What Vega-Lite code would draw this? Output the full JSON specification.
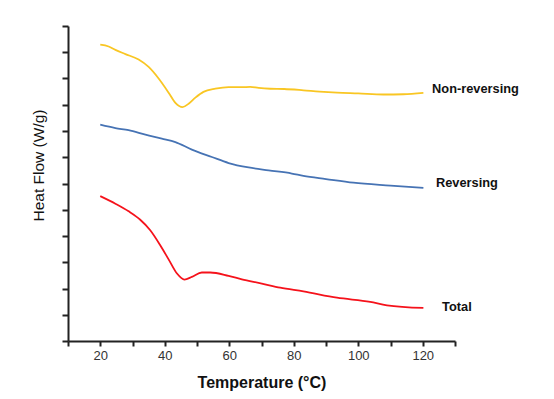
{
  "$schema": "https://vega.github.io/schema/vega-lite/v6.json",
  "autosize": {"type": "none"},
  "padding": {"left": 68, "top": 26, "right": 99, "bottom": 58},
  "width": 387,
  "height": 315,
  "background": "white",
  "config": {
    "view": {"stroke": null},
    "font": "Liberation Sans",
    "axis": {"grid": false, "domainColor": "#222", "domainWidth": 2, "tickColor": "#222", "tickWidth": 2, "labelFont": "Liberation Sans", "titleFont": "Liberation Sans", "labelColor": "#333", "titleColor": "#111"}
  },
  "data": {"values": [
      {"kind": "curve", "series": "Non-reversing", "T": 20, "v": 11.29},
      {"kind": "curve", "series": "Non-reversing", "T": 22.6, "v": 11.22},
      {"kind": "curve", "series": "Non-reversing", "T": 24.7, "v": 11.09},
      {"kind": "curve", "series": "Non-reversing", "T": 27.8, "v": 10.93},
      {"kind": "curve", "series": "Non-reversing", "T": 31.9, "v": 10.72},
      {"kind": "curve", "series": "Non-reversing", "T": 35, "v": 10.44},
      {"kind": "curve", "series": "Non-reversing", "T": 38.1, "v": 10.0},
      {"kind": "curve", "series": "Non-reversing", "T": 41.2, "v": 9.46},
      {"kind": "curve", "series": "Non-reversing", "T": 43.3, "v": 9.07},
      {"kind": "curve", "series": "Non-reversing", "T": 45.5, "v": 8.91},
      {"kind": "curve", "series": "Non-reversing", "T": 47.4, "v": 9.04},
      {"kind": "curve", "series": "Non-reversing", "T": 49.5, "v": 9.27},
      {"kind": "curve", "series": "Non-reversing", "T": 52, "v": 9.49},
      {"kind": "curve", "series": "Non-reversing", "T": 55.7, "v": 9.61},
      {"kind": "curve", "series": "Non-reversing", "T": 59.8, "v": 9.67},
      {"kind": "curve", "series": "Non-reversing", "T": 63.9, "v": 9.67},
      {"kind": "curve", "series": "Non-reversing", "T": 66.5, "v": 9.68},
      {"kind": "curve", "series": "Non-reversing", "T": 69.1, "v": 9.64},
      {"kind": "curve", "series": "Non-reversing", "T": 72.7, "v": 9.61},
      {"kind": "curve", "series": "Non-reversing", "T": 77, "v": 9.6},
      {"kind": "curve", "series": "Non-reversing", "T": 83, "v": 9.55},
      {"kind": "curve", "series": "Non-reversing", "T": 88, "v": 9.5},
      {"kind": "curve", "series": "Non-reversing", "T": 93.4, "v": 9.46},
      {"kind": "curve", "series": "Non-reversing", "T": 100, "v": 9.43},
      {"kind": "curve", "series": "Non-reversing", "T": 107.8, "v": 9.39},
      {"kind": "curve", "series": "Non-reversing", "T": 114, "v": 9.4},
      {"kind": "curve", "series": "Non-reversing", "T": 120.2, "v": 9.45},
      {"kind": "curve", "series": "Reversing", "T": 20, "v": 8.24},
      {"kind": "curve", "series": "Reversing", "T": 24.7, "v": 8.11},
      {"kind": "curve", "series": "Reversing", "T": 28.8, "v": 8.03},
      {"kind": "curve", "series": "Reversing", "T": 34, "v": 7.86},
      {"kind": "curve", "series": "Reversing", "T": 39.1, "v": 7.71},
      {"kind": "curve", "series": "Reversing", "T": 43.3, "v": 7.58},
      {"kind": "curve", "series": "Reversing", "T": 48.4, "v": 7.29},
      {"kind": "curve", "series": "Reversing", "T": 54.6, "v": 7.01},
      {"kind": "curve", "series": "Reversing", "T": 59.8, "v": 6.78},
      {"kind": "curve", "series": "Reversing", "T": 66, "v": 6.61},
      {"kind": "curve", "series": "Reversing", "T": 72.2, "v": 6.5},
      {"kind": "curve", "series": "Reversing", "T": 79.4, "v": 6.38},
      {"kind": "curve", "series": "Reversing", "T": 83, "v": 6.29},
      {"kind": "curve", "series": "Reversing", "T": 90, "v": 6.17},
      {"kind": "curve", "series": "Reversing", "T": 98.5, "v": 6.03},
      {"kind": "curve", "series": "Reversing", "T": 110, "v": 5.92},
      {"kind": "curve", "series": "Reversing", "T": 120.2, "v": 5.83},
      {"kind": "curve", "series": "Total", "T": 20, "v": 5.52},
      {"kind": "curve", "series": "Total", "T": 24.7, "v": 5.23},
      {"kind": "curve", "series": "Total", "T": 28.8, "v": 4.94},
      {"kind": "curve", "series": "Total", "T": 32.4, "v": 4.62},
      {"kind": "curve", "series": "Total", "T": 35.5, "v": 4.22},
      {"kind": "curve", "series": "Total", "T": 38.6, "v": 3.65},
      {"kind": "curve", "series": "Total", "T": 41.2, "v": 3.11},
      {"kind": "curve", "series": "Total", "T": 43.8, "v": 2.57},
      {"kind": "curve", "series": "Total", "T": 46.1, "v": 2.34},
      {"kind": "curve", "series": "Total", "T": 48.4, "v": 2.44},
      {"kind": "curve", "series": "Total", "T": 51.5, "v": 2.61},
      {"kind": "curve", "series": "Total", "T": 54.1, "v": 2.61},
      {"kind": "curve", "series": "Total", "T": 59.8, "v": 2.48},
      {"kind": "curve", "series": "Total", "T": 63.9, "v": 2.35},
      {"kind": "curve", "series": "Total", "T": 70.1, "v": 2.19},
      {"kind": "curve", "series": "Total", "T": 75.8, "v": 2.03},
      {"kind": "curve", "series": "Total", "T": 83, "v": 1.89},
      {"kind": "curve", "series": "Total", "T": 93.4, "v": 1.65},
      {"kind": "curve", "series": "Total", "T": 103.7, "v": 1.49},
      {"kind": "curve", "series": "Total", "T": 108.9, "v": 1.36},
      {"kind": "curve", "series": "Total", "T": 120.2, "v": 1.26},
      {"kind": "label", "series": "Non-reversing", "T": 122.9, "v": 9.59},
      {"kind": "label", "series": "Reversing", "T": 124.1, "v": 6.01},
      {"kind": "label", "series": "Total", "T": 126.0, "v": 1.3}
  ]},
  "encoding": {
    "x": {"field": "T", "type": "quantitative",
      "scale": {"domain": [10, 130], "nice": false, "zero": false},
      "axis": {"values": [10, 20, 30, 40, 50, 60, 70, 80, 90, 100, 110, 120, 130], "tickCount": 50,
        "labelExpr": "(datum.value % 20 == 0 && datum.value >= 20 && datum.value <= 120) ? datum.label : ''",
        "labelOverlap": false, "tickSize": 5, "labelFontSize": 13, "labelPadding": 3,
        "title": "Temperature (°C)", "titleFontSize": 16, "titleFontWeight": "bold",
        "titleBaseline": "middle", "titleY": 41}},
    "y": {"field": "v", "type": "quantitative",
      "scale": {"domain": [0, 12], "nice": false, "zero": false},
      "axis": {"values": [0, 1, 2, 3, 4, 5, 6, 7, 8, 9, 10, 11, 12], "tickCount": 50, "labels": false, "tickSize": 6,
        "title": "Heat Flow (W/g)", "titleFontSize": 15.5, "titleFontWeight": "normal",
        "titleX": -22, "titleY": 139}}
  },
  "layer": [
    {
      "transform": [{"filter": "datum.kind === 'curve'"}],
      "mark": {"type": "line", "strokeWidth": 1.8, "interpolate": "monotone"},
      "encoding": {
        "color": {"field": "series", "type": "nominal",
          "scale": {"domain": ["Non-reversing", "Reversing", "Total"], "range": ["#F9C623", "#4673B4", "#F5121B"]},
          "legend": null}
      }
    },
    {
      "transform": [{"filter": "datum.kind === 'label'"}],
      "mark": {"type": "text", "align": "left", "baseline": "middle", "fontSize": 12.8, "fontWeight": "bold", "color": "#111"},
      "encoding": {
        "text": {"field": "series"}
      }
    }
  ]
}
